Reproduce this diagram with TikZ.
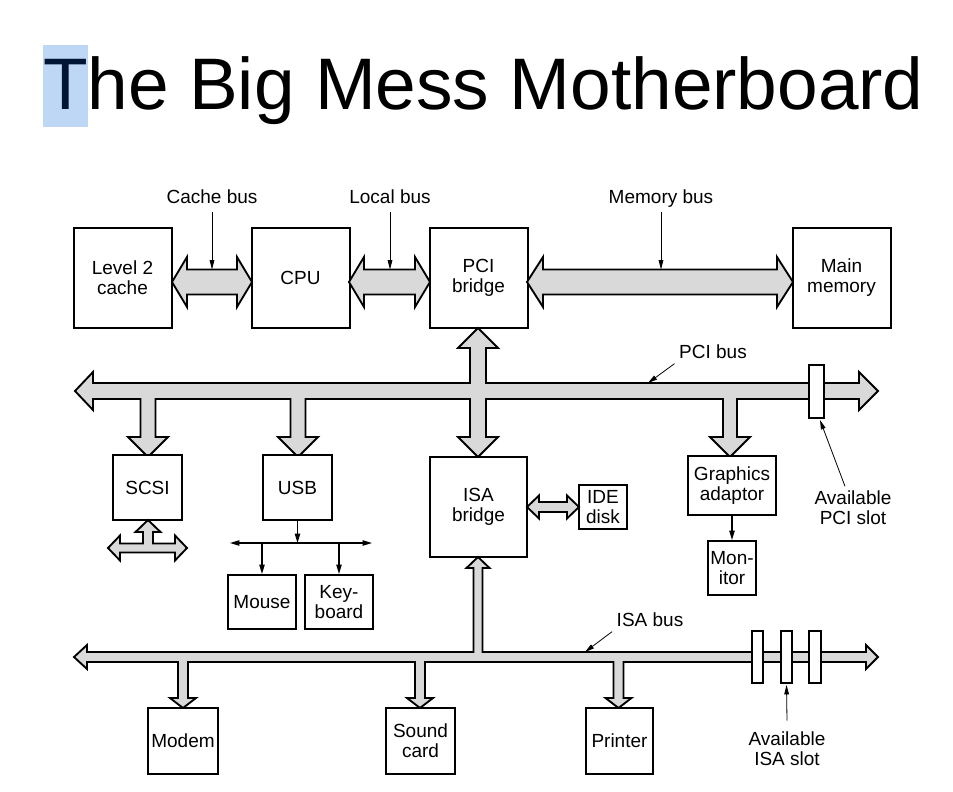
\documentclass[tikz,border=0pt]{standalone}
\usepackage{fontspec}
\setmainfont{Liberation Sans}
\usetikzlibrary{arrows.meta}
\definecolor{selblue}{RGB}{190,215,245}
\definecolor{seltext}{RGB}{0,21,51}
\tikzset{
  boardfont/.style={font=\fontsize{14.25}{15}\selectfont},
  boardbox/.style={draw, line width=1.5pt, align=center, inner sep=0pt, fill=white, boardfont},
  boardbus/.style={draw, fill=gray!30, line width=1.4pt, line join=miter},
  boardslot/.style={draw, fill=white, line width=1.4pt},
  boardarrow/.style={-{Triangle[length=7pt,width=4pt]}, line width=0.9pt},
  boardptr/.style={-{Triangle[length=7pt,width=3.5pt]}, line width=0.6pt},
}

\begin{document}
\begin{tikzpicture}[x=0.75pt,y=-0.75pt]
	\useasboundingbox (0,0) rectangle (953,792);

	% Title
	\fill[selblue] (43,45) rectangle (88,127);
	\node[anchor=base west, inner sep=0pt, font=\fontsize{54.75}{60}\selectfont] (title) at (43,109)
	{\textcolor{seltext}{T}he Big Mess Motherboard};

	% Top row: cache, CPU, PCI bridge, memory
	\node[boardbox, minimum width=73.5pt, minimum height=75pt] (l2) at (122.5,278) {Level 2\\cache};
	\node[boardbox, minimum width=73.5pt, minimum height=75pt] (cpu) at (300.5,278) {CPU};
	\node[boardbox, minimum width=73.5pt, minimum height=75pt] (pcib) at (478.5,278) {PCI\\bridge};
	\node[boardbox, minimum width=73.5pt, minimum height=75pt] (mem) at (841.5,278) {Main\\memory};

	% Top buses
	\draw[boardbus] (172,282) -- (187,257) -- (187,269.5) -- (237,269.5) -- (237,257) -- (252,282)
		-- (237,307) -- (237,294.5) -- (187,294.5) -- (187,307) -- cycle;
	\draw[boardbus] (349,282) -- (364,257) -- (364,269.5) -- (415,269.5) -- (415,257) -- (430,282)
		-- (415,307) -- (415,294.5) -- (364,294.5) -- (364,307) -- cycle;
	\draw[boardbus] (527,282) -- (543,257) -- (543,269.5) -- (777,269.5) -- (777,257) -- (793,282)
		-- (777,307) -- (777,294.5) -- (543,294.5) -- (543,307) -- cycle;

	\node[boardfont, anchor=base] (cachelbl) at (212,203) {Cache bus};
	\node[boardfont, anchor=base] (locallbl) at (390,203) {Local bus};
	\node[boardfont, anchor=base] (memlbl) at (661,203) {Memory bus};
	\coordinate (cachept) at (212,269.5);
	\coordinate (localpt) at (390,269.5);
	\coordinate (mempt) at (661,269.5);
	\draw[boardptr] (cachelbl.south |- 0,212) -- (cachept);
	\draw[boardptr] (locallbl.south |- 0,212) -- (localpt);
	\draw[boardptr] (memlbl.south |- 0,212) -- (mempt);

	% PCI bus with its branches
	\draw[boardbus] (75,391) -- (93,372) -- (93,383) -- (470,383) -- (470,348) -- (458,348) -- (478,328)
		-- (498,348) -- (486,348) -- (486,383) -- (859,383) -- (859,372) -- (878,391) -- (859,410)
		-- (859,399) -- (737,399) -- (737,437) -- (750,437) -- (730,457) -- (710,437) -- (723,437)
		-- (723,399) -- (486,399) -- (486,437) -- (498,437) -- (478,457) -- (458,437) -- (470,437)
		-- (470,399) -- (305.5,399) -- (305.5,437) -- (318,437) -- (298,457) -- (278,437) -- (290.5,437)
		-- (290.5,399) -- (155.5,399) -- (155.5,437) -- (168,437) -- (148,457) -- (128,437) -- (140.5,437)
		-- (140.5,399) -- (93,399) -- (93,410) -- cycle;
	\draw[boardslot] (809,365) rectangle (824,418);

	\node[boardfont] (pcilbl) at (713,352) {PCI bus};
	\coordinate (pcipt) at (648,383);
	\draw[boardptr] (pcilbl.south west) -- (pcipt);
	\node[boardfont, align=center] (avpci) at (853,508) {Available\\PCI slot};
	\coordinate (pcislotpt) at (820,420);
	\draw[boardptr] ([xshift=-6pt]avpci.north) -- (pcislotpt);

	% Devices on the PCI bus
	\node[boardbox, minimum width=51.75pt, minimum height=48.75pt] (scsi) at (147.5,487.5) {SCSI};
	\node[boardbox, minimum width=51.75pt, minimum height=48.75pt] (usb) at (297.5,487.5) {USB};
	\node[boardbox, minimum width=72.75pt, minimum height=75pt] (isab) at (478.5,507) {ISA\\bridge};
	\node[boardbox, minimum width=36pt, minimum height=33pt] (ide) at (603,507) {IDE\\disk};
	\node[boardbox, minimum width=66pt, minimum height=44.25pt] (gfx) at (732,485.5) {Graphics\\adaptor};
	\node[boardbox, minimum width=36pt, minimum height=40.5pt] (mon) at (732,568) {Mon-\\itor};
	\node[boardbox, minimum width=51pt, minimum height=40.5pt] (mouse) at (262,602) {Mouse};
	\node[boardbox, minimum width=51pt, minimum height=40.5pt] (kbd) at (339,602) {Key-\\board};

	% SCSI bus stub
	\draw[boardbus] (108,548) -- (120,535.5) -- (120,543.5) -- (143,543.5) -- (143,532) -- (135.5,532)
		-- (148,520) -- (160.5,532) -- (153,532) -- (153,543.5) -- (175,543.5) -- (175,535.5)
		-- (187,548) -- (175,560.5) -- (175,552.5) -- (120,552.5) -- (120,560.5) -- cycle;

	% IDE link
	\draw[boardbus] (527,507) -- (539,495.5) -- (539,502) -- (567,502) -- (567,495.5) -- (579,507)
		-- (567,518.5) -- (567,512) -- (539,512) -- (539,518.5) -- cycle;

	% USB line
	\coordinate (usbjoin) at (297.5,543);
	\coordinate (usbl) at (230,543);
	\coordinate (usbr) at (372,543);
	\draw[boardarrow] (usb) -- (usbjoin);
	\draw[{Triangle[length=7pt,width=4pt]}-{Triangle[length=7pt,width=4pt]}, line width=0.9pt] (usbl) -- (usbr);
	\draw[boardarrow] (mouse.north |- usbl) -- (mouse);
	\draw[boardarrow] (kbd.north |- usbl) -- (kbd);
	\draw[boardarrow] (gfx) -- (mon);

	% ISA bus with its branches
	\draw[boardbus] (74,657) -- (87,645) -- (87,652) -- (473.5,652) -- (473.5,568) -- (466.5,568)
		-- (478,557) -- (489.5,568) -- (482.5,568) -- (482.5,652) -- (866,652) -- (866,645) -- (878,657)
		-- (866,669) -- (866,662) -- (623.5,662) -- (623.5,698) -- (631.5,698) -- (618.5,708)
		-- (605.5,698) -- (613.5,698) -- (613.5,662) -- (425,662) -- (425,698) -- (433,698) -- (420,708)
		-- (407,698) -- (415,698) -- (415,662) -- (188,662) -- (188,698) -- (196,698) -- (183,708)
		-- (170,698) -- (178,698) -- (178,662) -- (87,662) -- (87,669) -- cycle;
	\draw[boardslot] (752,631) rectangle (763,683);
	\draw[boardslot] (781,631) rectangle (792,683);
	\draw[boardslot] (809,631) rectangle (821,683);

	\node[boardfont] (isalbl) at (650,620) {ISA bus};
	\coordinate (isapt) at (585,652);
	\draw[boardptr] (isalbl.south west) -- (isapt);
	\node[boardfont, align=center] (avisa) at (787,749) {Available\\ISA slot};
	\coordinate (isaslotpt) at (786.5,685);
	\draw[boardptr] ([yshift=5pt]avisa.north) -- (isaslotpt);

	% Devices on the ISA bus
	\node[boardbox, minimum width=52.5pt, minimum height=49.5pt] (modem) at (183,741) {Modem};
	\node[boardbox, minimum width=51.75pt, minimum height=49.5pt] (sound) at (420.5,741) {Sound\\card};
	\node[boardbox, minimum width=50.25pt, minimum height=49.5pt] (printer) at (619.5,741) {Printer};
\end{tikzpicture}
\end{document}
